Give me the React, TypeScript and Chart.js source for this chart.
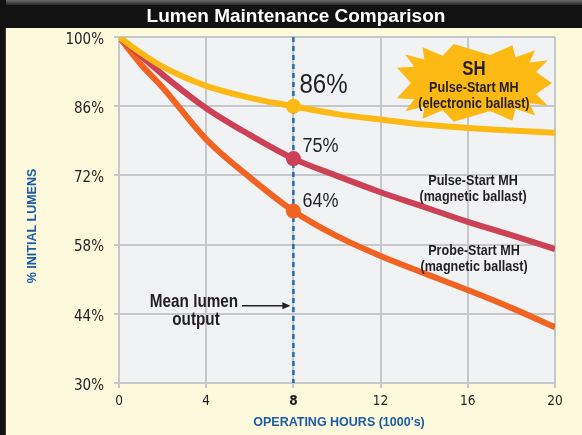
import React, { useEffect, useRef } from 'react';
import { Chart, registerables } from 'chart.js';

Chart.register(...registerables);

// ---- data ----
const hours = [0, 1, 2, 4, 6, 8, 10, 12, 14, 16, 18, 20];
const shElectronic = [100, 96.8, 94.0, 90.1, 87.7, 86.0, 84.4, 83.3, 82.3, 81.6, 81.1, 80.6];
const pulseMagnetic = [100, 96.2, 92.4, 85.6, 80.2, 75.4, 71.9, 68.6, 65.6, 62.6, 59.9, 57.1];
const probeMagnetic = [100, 94.5, 89.8, 79.3, 71.6, 64.8, 59.7, 55.7, 52.2, 48.8, 45.2, 41.3];
const seriesNames = ['SH Pulse-Start MH (electronic ballast)', 'Pulse-Start MH (magnetic ballast)', 'Probe-Start MH (magnetic ballast)'];
const seriesColors = ['#fdb913', '#cc4155', '#f26322'];
const meanHour = 8;
const meanValueLabels = ['86%', '75%', '64%'];
const xTickValues = [0, 4, 8, 12, 16, 20];
const yTickValues = [30, 44, 58, 72, 86, 100];
const chartTitle = 'Lumen Maintenance Comparison';
const xTitle = "OPERATING HOURS (1000's)";
const yTitle = '% INITIAL LUMENS';

const COND = '"DejaVu Sans Condensed", "Liberation Sans Narrow", Roboto, sans-serif';
const SANS = '"Liberation Sans", Arial, Helvetica, sans-serif';
const CREAM = '#fdf9dc';
const PLOT_BG = '#f0f2f4';
const GRID = '#c5c7ca';
const TEXT = '#231f20';
const BLUE = '#1a5da6';

function drawStar(ctx: CanvasRenderingContext2D, cx: number, cy: number, n: number, rxo: number, ryo: number, rxi: number, ryi: number) {
  const se = (v: number) => Math.sign(v) * Math.pow(Math.abs(v), 0.6);
  ctx.beginPath();
  for (let k = 0; k < n * 2; k++) {
    const a = (Math.PI * k) / n;
    const outer = k % 2 === 0;
    const rx = outer ? rxo : rxi;
    const ry = outer ? ryo : ryi;
    const x = cx + rx * se(Math.cos(a));
    const y = cy + ry * se(Math.sin(a));
    if (k === 0) ctx.moveTo(x, y);
    else ctx.lineTo(x, y);
  }
  ctx.closePath();
  ctx.fill();
}

// condensed text: Liberation Sans squeezed horizontally
function ctext(ctx: CanvasRenderingContext2D, s: string, x: number, y: number, font: string, sx: number, align: CanvasTextAlign = 'center') {
  ctx.save();
  ctx.translate(x, y);
  ctx.scale(sx, 1);
  ctx.font = font;
  ctx.textAlign = align;
  ctx.textBaseline = 'middle';
  ctx.fillText(s, 0, 0);
  ctx.restore();
}

const decorPlugin = {
  id: 'decor',
  beforeDraw(chart: any) {
    const { ctx, width, height, chartArea } = chart;
    ctx.save();
    ctx.fillStyle = CREAM;
    ctx.fillRect(0, 0, width, height);
    const g = ctx.createLinearGradient(0, 0, 0, 5);
    g.addColorStop(0, '#6a6a6a');
    g.addColorStop(1, '#2a2a2a');
    ctx.fillStyle = g;
    ctx.fillRect(0, 0, width, 5);
    ctx.fillStyle = '#121212';
    ctx.fillRect(0, 5, width, 23);
    ctx.fillRect(0, 0, 6, height);
    ctx.fillStyle = '#3a3a3a';
    ctx.fillRect(5, 28, 1, height - 28);
    ctx.fillStyle = PLOT_BG;
    ctx.fillRect(chartArea.left, chartArea.top, chartArea.right - chartArea.left, chartArea.bottom - chartArea.top);
    ctx.restore();
  },
  beforeDatasetsDraw(chart: any) {
    const { ctx, chartArea, scales } = chart;
    const x = scales.x.getPixelForValue(meanHour);
    ctx.save();
    ctx.strokeStyle = '#1f6db3';
    ctx.lineWidth = 2.5;
    ctx.setLineDash([5, 4]);
    ctx.beginPath();
    ctx.moveTo(x, chartArea.top);
    ctx.lineTo(x, chartArea.bottom);
    ctx.stroke();
    ctx.restore();
  },
  afterDraw(chart: any) {
    const { ctx, chartArea, scales } = chart;
    const xs = scales.x;
    const ys = scales.y;
    ctx.save();
    // title
    ctx.fillStyle = '#ffffff';
    ctx.font = `bold 19px ${SANS}`;
    ctx.textAlign = 'center';
    ctx.textBaseline = 'middle';
    ctx.fillText(chartTitle, 296, 17);

    // axis titles
    ctx.fillStyle = BLUE;
    ctx.font = `bold 12.5px ${SANS}`;
    ctx.fillText(xTitle, (chartArea.left + chartArea.right) / 2 + 2, 423);
    ctx.save();
    ctx.translate(33, (chartArea.top + chartArea.bottom) / 2 + 16);
    ctx.rotate(-Math.PI / 2);
    ctx.fillText(yTitle, 0, 0);
    ctx.restore();

    // mean value labels
    const seriesVals = [shElectronic, pulseMagnetic, probeMagnetic];
    const idx = hours.indexOf(meanHour);
    const px = xs.getPixelForValue(meanHour);
    ctx.fillStyle = TEXT;
    const offs = [[6, -21, 28, 0.86], [9, -12, 20, 0.9], [9, -10, 20, 0.9]];
    seriesVals.forEach((vals, i) => {
      const py = ys.getPixelForValue(vals[idx]);
      ctext(ctx, meanValueLabels[i], px + offs[i][0], py + offs[i][1], `${offs[i][2]}px ${SANS}`, offs[i][3], 'left');
    });

    // starburst for SH
    const sx = xs.getPixelForValue(16.28);
    const sy = ys.getPixelForValue(90.7);
    ctx.fillStyle = seriesColors[0];
    drawStar(ctx, sx, sy, 15, 78, 39, 63, 28);
    ctx.fillStyle = TEXT;
    ctext(ctx, 'SH', sx, sy - 13, `bold 20px ${SANS}`, 0.84);
    ctext(ctx, 'Pulse-Start MH', sx, sy + 5, `bold 15px ${SANS}`, 0.84);
    ctext(ctx, '(electronic ballast)', sx, sy + 21, `bold 15px ${SANS}`, 0.84);

    // series labels
    const lx = xs.getPixelForValue(16.24);
    const l1 = ys.getPixelForValue(69.25);
    ctext(ctx, 'Pulse-Start MH', lx, l1 - 8, `bold 15px ${SANS}`, 0.84);
    ctext(ctx, '(magnetic ballast)', lx, l1 + 8, `bold 15px ${SANS}`, 0.84);
    const l2 = ys.getPixelForValue(55.2);
    ctext(ctx, 'Probe-Start MH', lx + 1, l2 - 7.5, `bold 15px ${SANS}`, 0.84);
    ctext(ctx, '(magnetic ballast)', lx + 1, l2 + 8, `bold 15px ${SANS}`, 0.84);

    // mean lumen output note
    const mx = xs.getPixelForValue(3.44);
    const my = ys.getPixelForValue(44.6);
    ctext(ctx, 'Mean lumen', mx, my - 9, `bold 18px ${SANS}`, 0.85);
    ctext(ctx, 'output', mx + 2, my + 9, `bold 18px ${SANS}`, 0.85);
    const ay = my - 5;
    ctx.strokeStyle = TEXT;
    ctx.lineWidth = 1.5;
    ctx.beginPath();
    ctx.moveTo(mx + 48, ay);
    ctx.lineTo(px - 8, ay);
    ctx.stroke();
    ctx.beginPath();
    ctx.moveTo(px - 3, ay);
    ctx.lineTo(px - 11, ay - 3.5);
    ctx.lineTo(px - 11, ay + 3.5);
    ctx.closePath();
    ctx.fill();
    ctx.restore();
  },
};

export default function App() {
  const ref = useRef<HTMLCanvasElement | null>(null);
  useEffect(() => {
    if (!ref.current) return;
    const allSeries = [shElectronic, pulseMagnetic, probeMagnetic];
    const chart = new Chart(ref.current, {
      type: 'line',
      data: {
        datasets: allSeries.map((vals, i) => ({
          label: seriesNames[i],
          data: hours.map((h, j) => ({ x: h, y: vals[j] })),
          borderColor: seriesColors[i],
          backgroundColor: seriesColors[i],
          borderWidth: 6,
          fill: false,
          cubicInterpolationMode: 'monotone' as const,
          pointRadius: (c: any) => (c.raw && c.raw.x === meanHour ? 7.5 : 0),
          pointHoverRadius: 0,
          pointBorderWidth: 0,
        })),
      },
      options: {
        responsive: false,
        animation: false,
        events: [],
        layout: { padding: { left: 0, top: 37, right: 27, bottom: 0 } },
        plugins: { legend: { display: false }, tooltip: { enabled: false }, title: { display: false } },
        scales: {
          x: {
            type: 'linear',
            min: 0,
            max: 20,
            afterFit: (s: any) => { s.height = 52; },
            afterBuildTicks: (s: any) => { s.ticks = xTickValues.map((v) => ({ value: v })); },
            grid: { color: GRID, lineWidth: 2, tickLength: 5, tickColor: GRID },
            border: { color: GRID, width: 2 },
            ticks: {
              color: TEXT,
              padding: 5,
              font: (c: any) => ({ family: COND, size: 13.5, weight: c.tick && c.tick.value === meanHour ? 'bold' : 'normal' }),
              callback: (v: any) => String(v),
            },
          },
          y: {
            type: 'linear',
            min: 30,
            max: 100,
            afterFit: (s: any) => { s.width = 119; },
            afterBuildTicks: (s: any) => { s.ticks = yTickValues.map((v) => ({ value: v })); },
            grid: { color: GRID, lineWidth: 2, tickLength: 5, tickColor: GRID },
            border: { color: GRID, width: 2 },
            ticks: {
              color: TEXT,
              padding: 10,
              labelOffset: 3,
              font: { family: COND, size: 15 },
              callback: (v: any) => `${v}%`,
            },
          },
        },
      },
      plugins: [decorPlugin],
    } as any);
    return () => chart.destroy();
  }, []);
  return (
    <div style={{ position: 'fixed', left: 0, top: 0, width: 582, height: 435 }}>
      <canvas ref={ref} width={582} height={435} style={{ display: 'block', width: 582, height: 435 }} />
    </div>
  );
}
